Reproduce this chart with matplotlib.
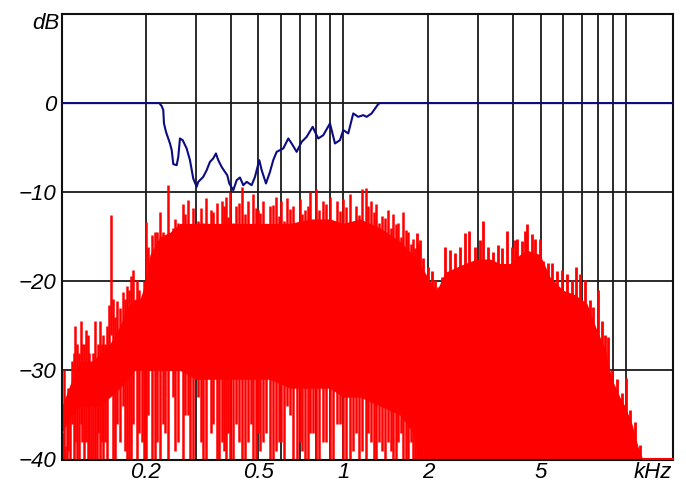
import numpy as np
import matplotlib
matplotlib.use('Agg')
import matplotlib.pyplot as plt

plt.rcParams['font.family'] = ['Liberation Sans', 'DejaVu Sans']
plt.rcParams['font.style'] = 'italic'
plt.rcParams['font.size'] = 16

# ------------------------------------------------------------------
# values (frequency in kHz, level in dB)
# ------------------------------------------------------------------

# blue response curve
resp_khz = [0.101, 0.2233, 0.2277, 0.2306, 0.2319, 0.2357, 0.2435, 0.2470, 0.2502,
            0.2572, 0.2606, 0.2642, 0.2701, 0.2790, 0.2866, 0.2944, 0.3027, 0.3067,
            0.3194, 0.3284, 0.3373, 0.3465, 0.3542, 0.3609, 0.3711, 0.3812, 0.3885,
            0.3949, 0.4080, 0.4195, 0.4308, 0.4426, 0.4550, 0.4740, 0.4869, 0.5043,
            0.5143, 0.5326, 0.5502, 0.5652, 0.5810, 0.5969, 0.6133, 0.6389, 0.6566,
            0.6839, 0.7124, 0.7418, 0.7793, 0.7940, 0.8157, 0.8496, 0.8974, 0.9346,
            0.9734, 1.0, 1.0416, 1.0849, 1.130, 1.177, 1.210, 1.260, 1.330, 1.349, 14.7]
resp_db = [0, 0, -0.34, -0.79, -2.28, -3.22, -4.53, -5.28, -6.85,
           -6.97, -6.03, -3.97, -4.16, -5.09, -6.40, -8.46, -9.40, -8.84,
           -8.28, -7.53, -6.60, -6.21, -5.65, -6.40, -7.16, -7.72, -8.09,
           -9.02, -9.78, -8.65, -8.35, -9.21, -8.84, -9.21, -8.28, -6.40,
           -7.53, -9.02, -7.72, -6.40, -5.47, -5.28, -5.09, -3.97, -4.53,
           -5.47, -4.35, -3.79, -2.66, -3.22, -3.97, -3.60, -2.28, -4.53,
           -4.16, -3.03, -3.40, -1.16, -1.54, -1.35, -1.54, -1.16, -0.11, 0, 0]

# red spectrum: dense part (upper and lower edge of the solid mass)
core_khz = [0.101, 0.1096, 0.1169, 0.1300, 0.1377, 0.1494, 0.1620, 0.1715, 0.1831,
            0.1907, 0.2002, 0.2068, 0.2244, 0.2435, 0.2642, 0.3011, 0.3373, 0.3971,
            0.4675, 0.5502, 0.6476, 0.7624, 0.8974, 0.9975, 1.146, 1.349, 1.587,
            1.765, 1.868, 2.027, 2.146, 2.291, 2.485, 2.697, 2.974, 3.306, 3.587,
            3.891, 4.222, 4.470, 4.970, 5.392, 5.995, 6.611, 7.290, 7.909, 8.443,
            8.940, 9.537, 9.934, 10.52, 11.04, 11.50, 14.7]
core_hi = [-34, -31, -29, -29, -28, -27, -25, -23, -22,
           -22, -20, -17, -15, -14.5, -13.5, -13.5, -13.5, -13.5,
           -13.5, -13.5, -13.5, -13, -13, -13.5, -13, -14, -15.5,
           -17, -18, -20, -21, -19, -18.5, -18, -17.5, -17.5, -18,
           -18, -17, -16.5, -17, -19.5, -21, -21.5, -22.5, -25.5, -27.5,
           -31, -33, -34, -36, -38.5, -40, -40]
core_lo = [-37, -35, -34, -34, -34, -33, -32, -31, -30,
           -30, -30, -30, -30, -30, -30, -31, -31, -31,
           -31, -31, -32, -32, -32, -33, -33, -34, -35,
           -37, -40, -40, -40, -40, -40, -40, -40, -40, -40,
           -40, -40, -40, -40, -40, -40, -40, -40, -40, -40,
           -40, -40, -40, -40, -40, -40, -40]

# red spectrum: single lines sticking out above / below the mass (below 2 kHz)
spike_khz = [0.1018, 0.1035, 0.1052, 0.1078, 0.1096, 0.1123, 0.1141, 0.1160, 0.1179,
             0.1208, 0.1228, 0.1258, 0.1279, 0.1300, 0.1322, 0.1354, 0.1377, 0.1411,
             0.1434, 0.1458, 0.1482, 0.1506, 0.1531, 0.1581, 0.1620, 0.1660, 0.1715,
             0.1772, 0.1801, 0.1861, 0.1938, 0.2002, 0.2035, 0.2102, 0.2190, 0.2244,
             0.2300, 0.2396, 0.2495, 0.2600, 0.2708, 0.2820, 0.2938, 0.3060, 0.3266,
             0.3401, 0.3571, 0.3720, 0.3844, 0.3971, 0.4170, 0.4379, 0.4599, 0.4790,
             0.4989, 0.5196, 0.5502, 0.5777, 0.6018, 0.6320, 0.6636, 0.7028, 0.7320,
             0.7624, 0.8003, 0.8474, 0.8974, 0.9499, 0.9975, 1.056, 1.109, 1.165,
             1.203, 1.253, 1.306, 1.371, 1.439, 1.499, 1.562, 1.627, 1.694, 1.765,
             1.838]
spike_top = [-37, -38.5, -33, -35, -29, -25, -27, -28, -24.5,
             -27, -25.5, -28, -29, -28, -24.5, -27, -24.5, -26,
             -27, -25, -22.7, -12.6, -22, -22.2, -23, -21.2, -20.5,
             -19.4, -18.7, -19.8, -22, -13.3, -16.2, -14.8, -14.5, -12.2,
             -14.5, -9.2, -14, -13.5, -11.3, -10.9, -11.8, -13.2, -10.7,
             -12, -11.2, -11, -10.5, -10, -11.5, -9.4, -11, -10.2,
             -12, -11, -11.5, -10.5, -11, -10.6, -11.5, -10.8, -12,
             -10, -9.6, -11, -10.5, -11, -10.8, -10.2, -11.6, -9.6,
             -9.5, -11, -11.3, -12.7, -12, -12.5, -13.5, -12.2, -14.5, -15.3,
             -15.8]
spike_bot = [-40, -40, -40, -40, -36, -38, -40, -40, -36,
             -40, -38, -40, -40, -40, -40, -37, -40, -40,
             -38, -40, -33, -26, -40, -36, -38, -34, -40,
             -40, -36, -40, -38, -40, -35, -40, -38, -40,
             -36, -40, -33, -38, -40, -35, -40, -33, -40,
             -37, -40, -38, -40, -40, -36, -40, -38, -40,
             -37, -38, -40, -39, -38, -34, -40, -38, -40,
             -37, -40, -38, -40, -36, -40, -40, -37, -39,
             -40, -38, -40, -39, -38, -40, -38, -40, -40, -40,
             -40]

# red spectrum: more lines reaching down towards the floor
dip_khz = [0.1026, 0.1060, 0.1114, 0.1189, 0.1248, 0.1343, 0.1399, 0.1555, 0.1688,
           0.1743, 0.1891, 0.1970, 0.2156, 0.2337, 0.2536, 0.2752, 0.2866, 0.3134,
           0.3186, 0.3456, 0.3631, 0.3782, 0.3907, 0.4070, 0.4272, 0.4487, 0.4714,
           0.4909, 0.5071, 0.5326, 0.5637, 0.5920, 0.6166, 0.6476, 0.6856, 0.7141,
           0.7499, 0.7811, 0.8203, 0.8685, 0.9194, 0.9734, 1.022, 1.082, 1.137,
           1.223, 1.284, 1.338, 1.405, 1.475, 1.537, 1.600, 1.667, 1.736, 1.794]
dip_top = [-30, -32, -28, -27, -26, -29, -27, -24, -22,
           -21, -21, -20, -14.5, -16, -13, -12.5, -14, -11.8, -13.5,
           -12.2, -14, -11.5, -12.8, -13.5, -11.2, -12.5, -14, -11.8,
           -12.3, -13.6, -11.4, -12.7, -13.2, -11.9, -14.1, -12.4, -11.6,
           -13.3, -12, -11.3, -13.8, -12.1, -11.7, -13.4, -12.6, -11.5,
           -12.2, -13.5, -12.9, -14, -13.6, -15, -14.2, -15.8, -16.3]
dip_bot = [-40, -39, -40, -38, -40, -40, -38, -40, -39,
           -40, -37, -40, -40, -37, -39, -35, -40, -38,
           -40, -36, -40, -39, -37, -40, -38, -40, -36,
           -40, -39, -37, -40, -38, -40, -35, -40, -39,
           -40, -37, -40, -38, -40, -36, -40, -39, -40,
           -37, -40, -38, -40, -39, -40, -37, -40, -38, -40]

# red spectrum: ragged top of the upper band (2 - 11 kHz), lines go down to the floor
ridge_khz = [1.818, 1.868, 1.920, 2.000, 2.056, 2.111, 2.169, 2.230, 2.291,
             2.386, 2.485, 2.589, 2.697, 2.793, 2.926, 3.047, 3.130, 3.260,
             3.396, 3.538, 3.637, 3.788, 3.946, 4.053, 4.110, 4.281, 4.398,
             4.481, 4.645, 4.772, 4.970, 5.105, 5.317, 5.467, 5.694, 5.931,
             6.178, 6.435, 6.649, 6.887, 7.172, 7.470, 7.674, 7.993, 8.217,
             8.441, 8.671, 8.916, 9.287, 9.672, 10.02, 10.35, 10.78, 11.23]
ridge_top = [-14.6, -15.4, -17.4, -18.4, -18.9, -19.9, -20.6, -19.5, -16.1,
             -16.5, -16.8, -16.1, -14.6, -14.4, -16.1, -15.4, -13.2, -16.1,
             -16.7, -15.9, -16.3, -14.4, -16.1, -15.4, -15.3, -15.5, -14.4,
             -13.6, -14.7, -15.3, -15.3, -17.7, -18.0, -17.9, -18.9, -18.7,
             -19.2, -19.9, -18.4, -19.2, -19.9, -22.1, -22.9, -21.0, -24.4,
             -26.0, -26.2, -29.9, -31.0, -32.5, -30.8, -34.5, -35.8, -38.4]
floor_db = -40

# grid and labels
grid_khz = [0.2, 0.3, 0.4, 0.5, 0.6, 0.7, 0.8, 0.9, 1, 2, 3, 4, 5, 6, 7, 8, 9, 10]
grid_db = [0, -10, -20, -30]
xtick_khz = [0.2, 0.5, 1, 2, 5]
xtick_labels = ['0.2', '0.5', '1', '2', '5']
ytick_db = [-40, -30, -20, -10, 0]
ytick_labels = ['\u221240', '\u221230', '\u221220', '\u221210', '0']

# ------------------------------------------------------------------

fig = plt.figure(figsize=(6.86, 4.83), dpi=100)
ax = fig.add_axes([62 / 686, 1 - 459.5 / 483, 611 / 686, 445.5 / 483])

ax.set_xscale('log')
ax.set_xlim(0.101, 14.7)
ax.set_ylim(-40, 10)

for g in grid_khz:
    ax.axvline(g, color='#1a1a1a', lw=1.3, zorder=1)
for g in grid_db:
    ax.axhline(g, color='#1a1a1a', lw=1.3, zorder=1)

# spectrum
red = '#ff0000'
ax.fill_between(core_khz, core_lo, core_hi, color=red, lw=0, zorder=2)
ax.vlines(spike_khz, spike_bot, spike_top, color=red, lw=1.8, zorder=2)
ax.vlines(dip_khz, dip_bot, dip_top, color=red, lw=1.8, zorder=2)
ax.vlines(ridge_khz, floor_db, ridge_top, color=red, lw=2.0, zorder=2)
ax.plot(core_khz[-2:], core_hi[-2:], color=red, lw=1.5, zorder=3, clip_on=False)

# response
ax.plot(resp_khz, resp_db, color='#0c0c82', lw=1.5, zorder=4)

ax.set_xticks(xtick_khz, xtick_labels)
ax.set_yticks(ytick_db, ytick_labels)
ax.minorticks_off()
ax.tick_params(length=0)
ax.tick_params(axis='x', pad=2)
ax.tick_params(axis='y', pad=4)

ax.annotate('kHz', xy=(12.5, 0), xycoords=('data', 'axes fraction'),
            xytext=(0, -2), textcoords='offset points', ha='center', va='top')
ax.annotate('dB', xy=(0, 1), xycoords='axes fraction',
            xytext=(-2, -7), textcoords='offset points', ha='right', va='center')

for s in ax.spines.values():
    s.set_linewidth(1.5)
    s.set_color('#111111')

fig.savefig('out.png', dpi=100)
